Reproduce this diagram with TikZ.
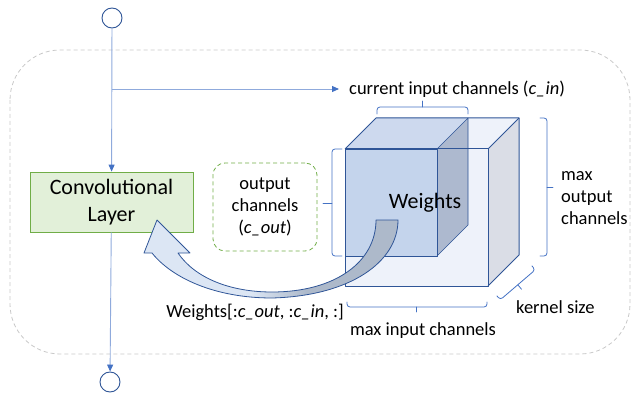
\documentclass[tikz,border=0pt]{standalone}
\usepackage{fontspec}
\setmainfont{Carlito}
\usetikzlibrary{arrows.meta}
\definecolor{lineblue}{HTML}{8FAADC}
\definecolor{arrowblue}{HTML}{4472C4}
\definecolor{darkblue}{HTML}{2F5597}
\definecolor{greyline}{HTML}{C8C8C8}
\definecolor{convfill}{HTML}{E2F0D9}
\definecolor{convline}{HTML}{70AD47}
\definecolor{outerfront}{HTML}{EEF2FA}
\definecolor{outertop}{HTML}{EEF2FA}
\definecolor{outerside}{HTML}{DADDE6}
\definecolor{innerfront}{HTML}{C4D4EC}
\definecolor{innertop}{HTML}{CDD9EE}
\definecolor{innerside}{HTML}{ADB9CF}
\definecolor{arrowlight}{HTML}{DCE6F4}
\definecolor{arrowgrey}{HTML}{ADB9CA}
\pgfdeclarehorizontalshading{arrowshade}{100bp}{color(0bp)=(arrowlight); color(46bp)=(arrowlight); color(57bp)=(arrowgrey); color(100bp)=(arrowgrey)}
\tikzset{
  circ/.style={circle, draw=darkblue, fill=white, minimum size=20pt, inner sep=0pt, line width=0.9pt},
  conv/.style={draw=convline, fill=convfill, minimum width=163pt, minimum height=60pt, align=center, line width=0.8pt, font=\fontsize{22}{26.5}\selectfont},
  outbox/.style={draw=convline, dashed, dash pattern=on 4pt off 3pt, rounded corners=12pt, minimum width=104pt, minimum height=88pt, align=center, line width=0.8pt},
  conn/.style={draw=lineblue, line width=0.9pt, -{Triangle[length=7pt,width=6pt,color=arrowblue,fill=arrowblue]}},
  bracestyle/.style={draw=arrowblue, line width=0.8pt, rounded corners=3pt, line cap=round},
  lbl/.style={inner sep=0pt, align=left},
  inneredge/.style={draw=darkblue, line width=0.7pt, line join=round},
  outeredge/.style={draw=darkblue, line width=1pt, line join=round}
}
\begin{document}
\begin{tikzpicture}[x=1pt,y=-1pt, font=\fontsize{18.5}{22}\selectfont]
\useasboundingbox (0,0) rectangle (635,393);
% outer dashed frame
\draw[greyline, dash pattern=on 4pt off 3pt, line width=0.8pt, rounded corners=50pt] (10,50) rectangle (630,354);

% cube coordinates
\coordinate (A) at (345,149);
\coordinate (B) at (488,149);
\coordinate (C) at (488,286);
\coordinate (D) at (345,286);
\coordinate (Ab) at (376,118);
\coordinate (Bb) at (519,118);
\coordinate (Cb) at (519,255);
\coordinate (iB) at (437,149);
\coordinate (iC) at (437,256);
\coordinate (iD) at (345,256);
\coordinate (iBb) at (468,118);
\coordinate (iCb) at (468,225);

% outer cube faces
\fill[outertop] (A) -- (B) -- (Bb) -- (Ab) -- cycle;
\fill[outerside] (B) -- (C) -- (Cb) -- (Bb) -- cycle;
\fill[outerfront] (A) -- (B) -- (C) -- (D) -- cycle;
% inner cube faces
\fill[innertop] (A) -- (iB) -- (iBb) -- (Ab) -- cycle;
\fill[innerside] (iB) -- (iC) -- (iCb) -- (iBb) -- cycle;
\fill[innerfront] (A) -- (iB) -- (iC) -- (iD) -- cycle;
% inner edges
\draw[inneredge] (A) -- (iB) -- (iC) -- (iD) -- cycle;
\draw[inneredge] (iB) -- (iBb) -- (iCb) -- (iC);
% outer edges
\draw[outeredge] (A) -- (B) -- (C) -- (D) -- cycle;
\draw[outeredge] (A) -- (Ab) -- (Bb) -- (Cb) -- (C);
\draw[outeredge] (B) -- (Bb);

\node (weights) at (425,203) {\fontsize{22}{26}\selectfont Weights};

% nodes
\node[circ] (in) at (112,18) {};
\node[circ] (out) at (110,382) {};
\node[conv] (conv) at (111.5,202) {Convolutional\\Layer};
\node[outbox] (cout) at (265,207) {output\\channels\\(\textit{c\_out})};
\node[lbl, anchor=west] (cin) at (349,89) {current input channels (\textit{c\_in})};
\node[lbl, anchor=west] (maxout) at (561,198) {max\\output\\channels};
\node[lbl] (maxin) at (423,331) {max input channels};
\node[lbl, anchor=west] (ksize) at (516,307) {kernel size};
\node[lbl] (slice) at (255,312) {Weights[:\textit{c\_out}, :\textit{c\_in}, :]};

% connectors
\coordinate (branch) at (112,89);
\draw[conn] (in) -- (conv);
\draw[conn] (conv) -- (out);
\draw[conn] (branch) -- ([xshift=-10pt]cin.west);

% braces (square style with centre tick)
% top: current input channels
\draw[bracestyle] (377,114) -- (377,107) -- (468,107) -- (468,114);
\draw[bracestyle] (422.5,107) -- (422.5,101);
% left: output channels
\draw[bracestyle] (342,149) -- (332,149) -- (332,256) -- (342,256);
\draw[bracestyle] (332,203) -- (323,203);
% right: max output channels
\draw[bracestyle] (540,118) -- (547,118) -- (547,256) -- (540,256);
\draw[bracestyle] (547,187) -- (553,187);
% bottom: max input channels
\draw[bracestyle] (347,302) -- (347,307) -- (487,307) -- (487,302);
\draw[bracestyle] (416,307) -- (416,312);
% diagonal: kernel size
\draw[bracestyle] (497,296) -- (500.3,299.8) -- (535.3,269.8) -- (532,266);
\draw[bracestyle] (517.8,284.8) -- (521.5,289.2);

% curved block arrow
\draw[darkblue, line width=0.8pt, line join=round, shading=arrowshade]
  (376,220) -- (398,220)
  .. controls (398,262) and (350,296) .. (272,298)
  .. controls (215,298) and (172,278) .. (152,253)
  -- (144,253) -- (157,220) -- (190,253) -- (178,253)
  .. controls (195,278) and (230,292) .. (272,292)
  .. controls (335,292) and (376,262) .. (376,220) -- cycle;
\end{tikzpicture}
\end{document}
